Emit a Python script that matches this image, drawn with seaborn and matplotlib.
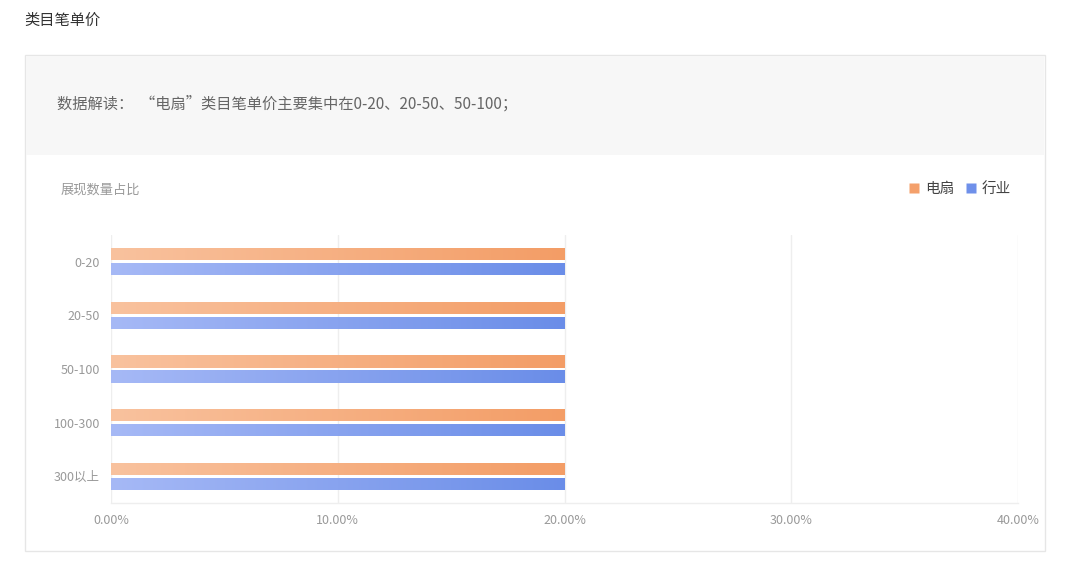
import numpy as np
import pandas as pd
import matplotlib
matplotlib.use("Agg")
import matplotlib.pyplot as plt
from matplotlib.patches import Rectangle
from matplotlib.colors import LinearSegmentedColormap
from matplotlib.lines import Line2D
from matplotlib.ticker import FuncFormatter
import seaborn as sns

# ---- data ----
categories = ["0-20", "20-50", "50-100", "100-300", "300以上"]
series_names = ["电扇", "行业"]
fan_values = [20.0, 20.0, 20.0, 20.0, 20.0]
industry_values = [20.0, 20.0, 20.0, 20.0, 20.0]
x_ticks = [0, 10, 20, 30, 40]

title_text = "类目笔单价"
note_text = "数据解读：  \u201c电扇\u201d类目笔单价主要集中在0-20、20-50、50-100；"
subtitle_text = "展现数量占比"

df = pd.DataFrame({
    "category": categories * 2,
    "value": fan_values + industry_values,
    "series": [series_names[0]] * len(categories) + [series_names[1]] * len(categories),
})

sns.set_theme(style="white")
plt.rcParams["font.family"] = ["Noto Sans CJK SC", "DejaVu Sans"]

W, H = 1080, 566
fig = plt.figure(figsize=(W / 100, H / 100), dpi=100)
fig.patch.set_facecolor("white")

def fx(px):
    return px / W

def fy(py):
    return 1 - py / H

# panel box and header
fig.patches.append(Rectangle((fx(25), fy(551)), fx(1045) - fx(25), fy(55) - fy(551),
                             transform=fig.transFigure, facecolor="white",
                             edgecolor="#e6e6e6", linewidth=1.0, zorder=-3))
fig.patches.append(Rectangle((fx(26), fy(155)), fx(1044) - fx(26), fy(56) - fy(155),
                             transform=fig.transFigure, facecolor="#f7f7f7",
                             edgecolor="none", zorder=-2))

fig.text(fx(24), fy(20), title_text, fontsize=11, color="#333333", va="center", ha="left")
fig.text(fx(57), fy(104), note_text, fontsize=11, color="#666666", va="center", ha="left")
fig.text(fx(61), fy(190), subtitle_text, fontsize=9.5, color="#999999", va="center", ha="left")

ax = fig.add_axes([fx(111), fy(503), fx(1018) - fx(111), fy(235) - fy(503)])
ax.set_zorder(1)
ax.patch.set_alpha(0)
palette = {series_names[0]: "#f4a06b", series_names[1]: "#6f90ea"}
sns.barplot(data=df, y="category", x="value", hue="series", orient="h",
            palette=palette, order=categories, hue_order=series_names,
            width=0.56, gap=0.18, ax=ax, legend=False, errorbar=None, saturation=1)

ax.set_xlim(0, 40)
ax.set_ylim(len(categories) - 0.5, -0.5)
ax.set_xticks(x_ticks)
ax.xaxis.set_major_formatter(FuncFormatter(lambda v, p: f"{v:.2f}%"))
ax.set_xlabel("")
ax.set_ylabel("")
ax.tick_params(axis="both", length=0, labelsize=9, labelcolor="#999999", pad=8)
ax.grid(axis="x", color="#eeeeee", linewidth=1.0)
ax.grid(axis="y", visible=False)
ax.set_axisbelow(True)
for s in ["top", "right", "left"]:
    ax.spines[s].set_visible(False)
ax.spines["bottom"].set_color("#eeeeee")
ax.spines["bottom"].set_linewidth(1.0)

# gradient fill of the bars, one colormap per hue level
cmap_list = [
    LinearSegmentedColormap.from_list("o", ["#f9c29e", "#f39d66"]),
    LinearSegmentedColormap.from_list("b", ["#a6b9f6", "#6a8de8"]),
]
grad = np.linspace(0, 1, 256).reshape(1, -1)
for cont, cm in zip(ax.containers, cmap_list):
    for patch in cont.patches:
        x0 = patch.get_x()
        w = patch.get_width()
        y0 = patch.get_y()
        h = patch.get_height()
        im = ax.imshow(grad, cmap=cm, aspect="auto",
                       extent=(x0, x0 + w, y0 + h, y0), zorder=2, interpolation="bicubic")
        im.set_clip_path(patch)
        patch.set_facecolor("none")
        patch.set_edgecolor("none")
ax.set_xlim(0, 40)
ax.set_ylim(len(categories) - 0.5, -0.5)

handles = [Line2D([0], [0], marker="s", linestyle="none", markersize=7,
                  markerfacecolor=palette[n], markeredgecolor="none") for n in series_names]
fig.legend(handles, series_names, loc="center right", bbox_to_anchor=(fx(1024), fy(189)),
           ncol=2, frameon=False, fontsize=10.5, handletextpad=0.3, columnspacing=0.8,
           labelcolor="#444444", handlelength=0.8)

fig.savefig("out.png", dpi=100)
